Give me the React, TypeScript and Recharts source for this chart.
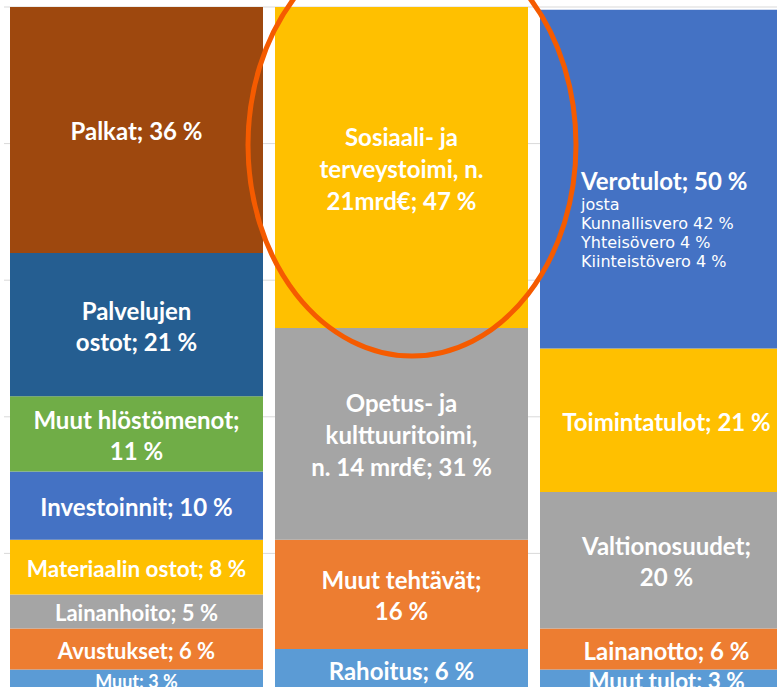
import React from "react";
import {
  BarChart,
  Bar,
  Cell,
  XAxis,
  YAxis,
  CartesianGrid,
  LabelList,
} from "recharts";

// Three stacked columns, segments listed bottom -> top
const columns = ["Menot", "Tehtävät", "Tulot"];

const menotValues = [3, 6, 5, 8, 10, 11, 21, 36];
const menotLabels = [
  "Muut; 3 %",
  "Avustukset; 6 %",
  "Lainanhoito; 5 %",
  "Materiaalin ostot; 8 %",
  "Investoinnit; 10 %",
  "Muut hlöstömenot;\n11 %",
  "Palvelujen\nostot; 21 %",
  "Palkat; 36 %",
];

const tehtavatValues = [6, 16, 31, 47];
const tehtavatLabels = [
  "Rahoitus; 6 %",
  "Muut tehtävät;\n16 %",
  "Opetus- ja\nkulttuuritoimi,\nn. 14 mrd€; 31 %",
  "Sosiaali- ja\nterveystoimi, n.\n21mrd€; 47 %",
];

const tulotValues = [3, 6, 20, 21, 49.6];
const tulotLabels = [
  "Muut tulot; 3 %",
  "Lainanotto; 6 %",
  "Valtionosuudet;\n20 %",
  "Toimintatulot; 21 %",
  "Verotulot; 50 %",
];
const verotulotDetail = [
  "josta",
  "Kunnallisvero 42 %",
  "Yhteisövero 4 %",
  "Kiinteistövero 4 %",
];

// styling
const menotColors = [
  "#5B9BD5",
  "#ED7D31",
  "#A5A5A5",
  "#FFC000",
  "#4472C4",
  "#70AD47",
  "#255E91",
  "#9E480E",
];
const tehtavatColors = ["#5B9BD5", "#ED7D31", "#A5A5A5", "#FFC000"];
const tulotColors = ["#5B9BD5", "#ED7D31", "#A5A5A5", "#FFC000", "#4472C4"];

const labelSizes: Record<string, number> = {
  "Muut; 3 %": 18,
  "Avustukset; 6 %": 22,
  "Lainanhoito; 5 %": 22,
  "Materiaalin ostot; 8 %": 22.5,
  "Muut tulot; 3 %": 22.5,
};

const allValues = [menotValues, tehtavatValues, tulotValues];
const allLabels = [menotLabels, tehtavatLabels, tulotLabels];
const allColors = [menotColors, tehtavatColors, tulotColors];
const levels = Math.max(...allValues.map((v) => v.length));

const data = columns.map((name, i) => {
  const row: Record<string, number | string> = { name };
  for (let k = 0; k < levels; k++) {
    row[`s${k}`] = allValues[i][k] ?? 0;
    row[`l${k}`] = allLabels[i][k] ?? "";
  }
  return row;
});

const FONT = "Lato, 'Open Sans', sans-serif";

const SegmentLabel = (props: any) => {
  const { x, y, width, height, value } = props;
  if (!value || !height) return null;
  const lines = String(value).split("\n");
  const cx = Number(x) + Number(width) / 2;
  const cy = Number(y) + Number(height) / 2;

  if (lines[0].startsWith("Verotulot")) {
    const lx = Number(x) + 41;
    return (
      <g>
        <text
          x={lx}
          y={cy + 1.5}
          fill="#fff"
          fontFamily={FONT}
          fontWeight={700}
          fontSize={24}
          dominantBaseline="central"
        >
          {lines[0]}
        </text>
        {verotulotDetail.map((t, j) => (
          <text
            key={t}
            x={lx}
            y={cy + 25.5 + j * 19}
            fill="#fff"
            fontFamily="'DejaVu Sans', Verdana, sans-serif"
            fontSize={16}
            dominantBaseline="central"
          >
            {t}
          </text>
        ))}
      </g>
    );
  }

  const size = labelSizes[lines[0]] ?? 24;
  const lineH = lines.length === 3 ? 32 : 31;
  return (
    <g>
      {lines.map((t, j) => (
        <text
          key={t}
          x={cx}
          y={cy + (j - (lines.length - 1) / 2) * lineH + 1}
          fill="#fff"
          fontFamily={FONT}
          fontWeight={700}
          fontSize={size}
          textAnchor="middle"
          dominantBaseline="central"
        >
          {t}
        </text>
      ))}
    </g>
  );
};

export default function App() {
  return (
    <div
      style={{
        position: "fixed",
        left: 0,
        top: 0,
        width: 777,
        height: 687,
        overflow: "hidden",
        background: "#fff",
      }}
    >
      <BarChart
        width={812}
        height={700}
        data={data}
        margin={{ top: 7, right: 13, left: 4, bottom: 10 }}
      >
        <CartesianGrid vertical={false} stroke="#D9D9D9" />
        <XAxis dataKey="name" hide />
        <YAxis
          type="number"
          domain={[0, 100]}
          ticks={[0, 20, 40, 60, 80, 100]}
          hide
        />
        {Array.from({ length: levels }, (_, k) => (
          <Bar
            key={k}
            dataKey={`s${k}`}
            stackId="a"
            barSize={253}
            isAnimationActive={false}
          >
            {data.map((_, i) => (
              <Cell key={i} fill={allColors[i][k] ?? "transparent"} />
            ))}
            <LabelList dataKey={`l${k}`} content={SegmentLabel} />
          </Bar>
        ))}
      </BarChart>
      {/* highlight ring around the social & health segment */}
      <svg
        width={777}
        height={687}
        style={{ position: "absolute", left: 0, top: 0, pointerEvents: "none" }}
      >
        <ellipse
          cx={412}
          cy={145}
          rx={164}
          ry={211}
          fill="none"
          stroke="#F55B00"
          strokeWidth={5}
        />
      </svg>
    </div>
  );
}
